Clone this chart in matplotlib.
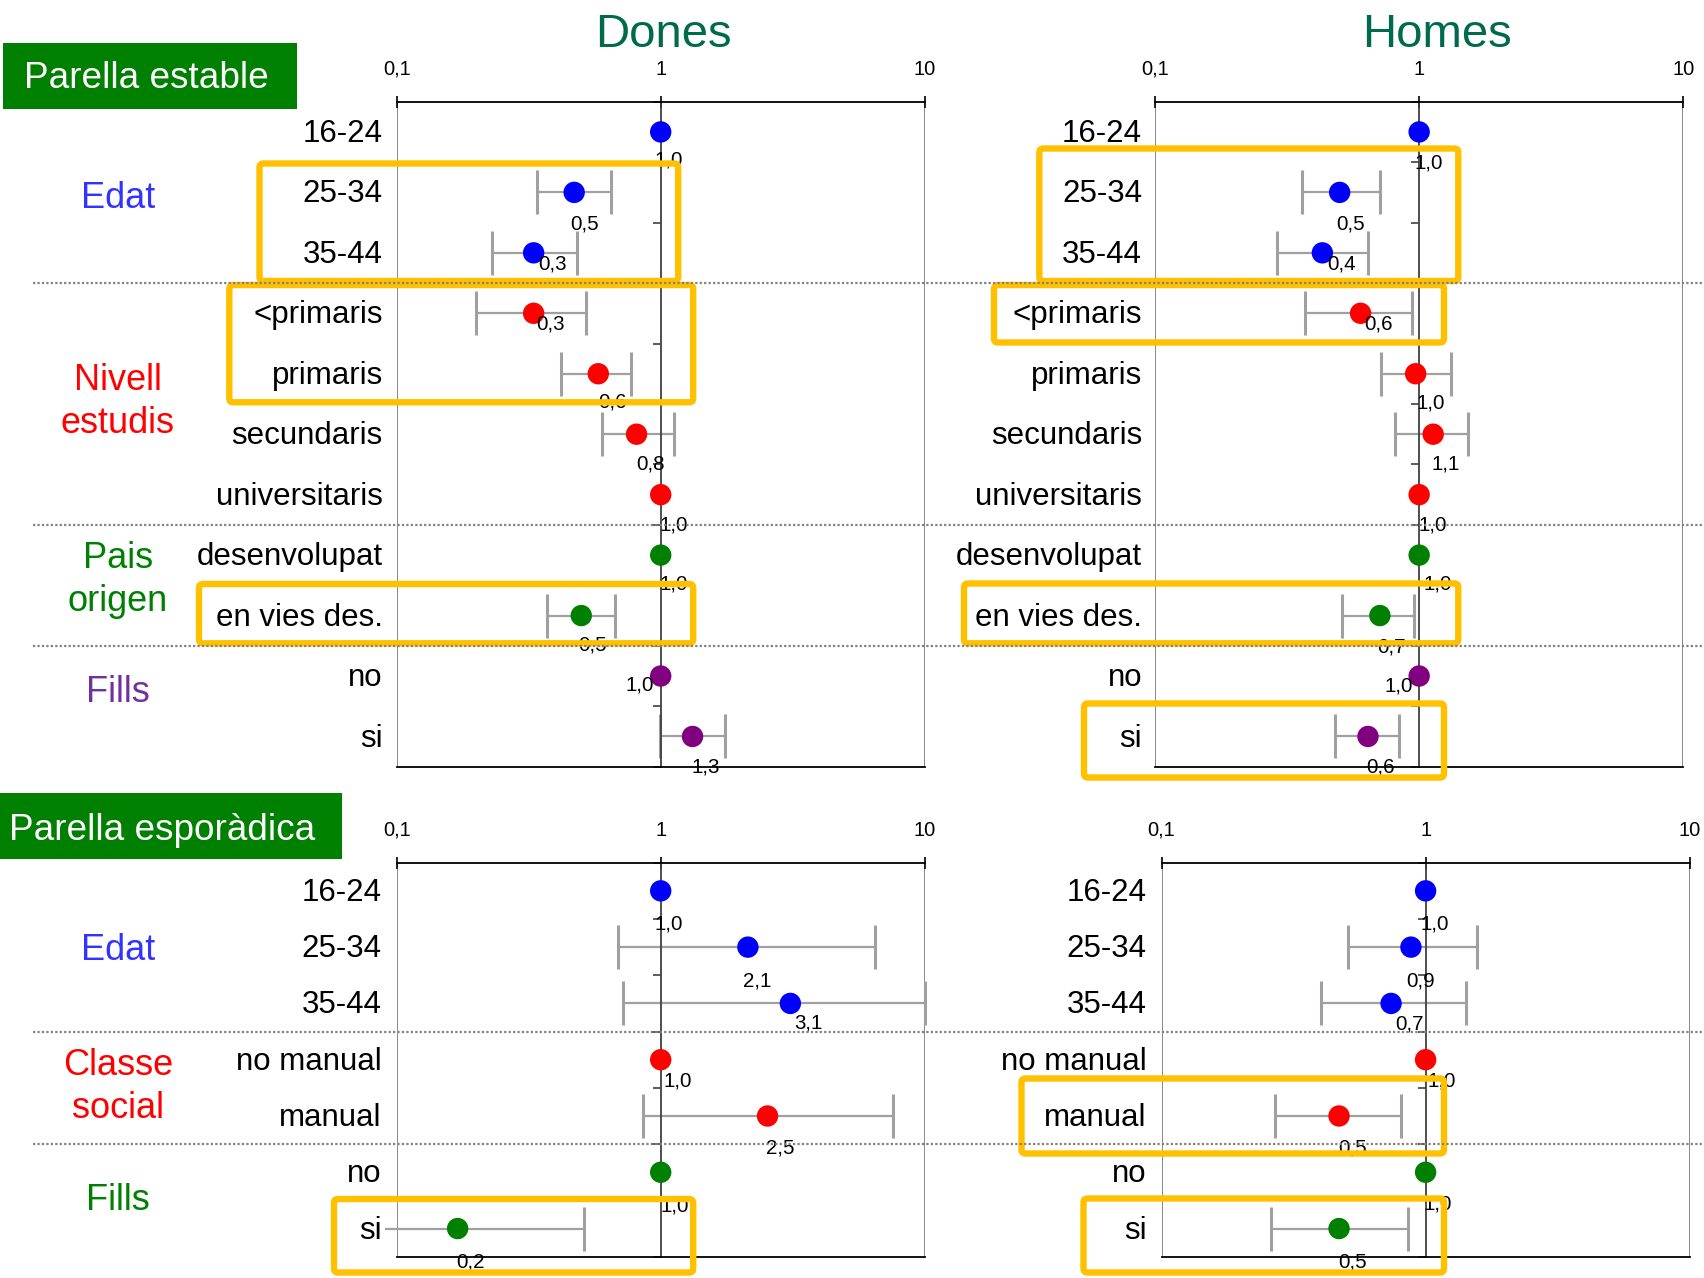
import numpy as np
import matplotlib
matplotlib.use('Agg')
from matplotlib import pyplot as plt
from matplotlib import transforms
from matplotlib.patches import FancyBboxPatch, Rectangle
from matplotlib.lines import Line2D

plt.rcParams['font.family'] = ['Liberation Sans', 'DejaVu Sans']

nan = np.nan

# Categories

rows_estable = ['16-24', '25-34', '35-44', '<primaris', 'primaris', 'secundaris', 'universitaris',
                'desenvolupat', 'en vies des.', 'no', 'si']
groups_estable = ['Edat', 'Nivell\nestudis', 'Pais\norigen', 'Fills']
group_sizes_estable = [3, 4, 2, 2]

rows_esporadica = ['16-24', '25-34', '35-44', 'no manual', 'manual', 'no', 'si']
groups_esporadica = ['Edat', 'Classe\nsocial', 'Fills']
group_sizes_esporadica = [3, 2, 2]

# Odds ratios and 95% confidence limits (nan = reference category)

or_dones_estable = np.array([1.0, 0.47, 0.33, 0.33, 0.58, 0.81, 1.0, 1.0, 0.50, 1.0, 1.32])
lo_dones_estable = np.array([nan, 0.34, 0.23, 0.20, 0.42, 0.60, nan, nan, 0.37, nan, 0.99])
hi_dones_estable = np.array([nan, 0.65, 0.48, 0.52, 0.77, 1.12, nan, nan, 0.67, nan, 1.76])

or_homes_estable = np.array([1.0, 0.50, 0.43, 0.60, 0.97, 1.13, 1.0, 1.0, 0.71, 1.0, 0.64])
lo_homes_estable = np.array([nan, 0.36, 0.29, 0.37, 0.72, 0.81, nan, nan, 0.51, nan, 0.48])
hi_homes_estable = np.array([nan, 0.71, 0.64, 0.94, 1.32, 1.53, nan, nan, 0.96, nan, 0.84])

or_dones_esporadica = np.array([1.0, 2.14, 3.10, 1.0, 2.54, 1.0, 0.17])
lo_dones_esporadica = np.array([nan, 0.69, 0.72, nan, 0.86, nan, 0.085])
hi_dones_esporadica = np.array([nan, 6.5, 10.05, nan, 7.6, nan, 0.51])

or_homes_esporadica = np.array([1.0, 0.88, 0.74, 1.0, 0.47, 1.0, 0.47])
lo_homes_esporadica = np.array([nan, 0.51, 0.40, nan, 0.27, nan, 0.26])
hi_homes_esporadica = np.array([nan, 1.57, 1.42, nan, 0.81, nan, 0.86])

# Styling

point_colors_estable = ['#0000FF', '#FF0000', '#008000', '#800080']
point_colors_esporadica = ['#0000FF', '#FF0000', '#008000']
group_colors_estable = ['#3333FF', '#FF0000', '#008000', '#7030A0']
group_colors_esporadica = ['#3333FF', '#FF0000', '#008000']
group_shift_estable = [6, -2, -5, -14]
group_shift_esporadica = [3, -1, 0]

# where the value labels sit relative to each point (pixels right, pixels down)
offs_dones_estable = [(8, 28), (10, 32), (19, 11), (17, 11), (14, 28), (14, 30), (13, 30), (13, 29),
                      (11, 29), (-21, 9), (13, 31)]
offs_homes_estable = [(10, 31), (11, 32), (19, 11), (18, 11), (15, 29), (13, 30), (14, 30), (19, 29),
                      (12, 31), (-20, 10), (13, 31)]
offs_dones_esporadica = [(8, 33), (9, 34), (18, 20), (17, 21), (13, 32), (14, 34), (13, 33)]
offs_homes_esporadica = [(9, 33), (10, 34), (18, 21), (16, 21), (14, 32), (12, 32), (14, 33)]

W, H = 1704, 1278
fig = plt.figure(figsize=(W / 100, H / 100), dpi=100)
px = transforms.Affine2D().scale(1 / W, -1 / H).translate(0, 1) + fig.transFigure


def px_rect(x0, y0, x1, y1):
    return [x0 / W, 1 - y1 / H, (x1 - x0) / W, (y1 - y0) / H]


def colorsFor(sizes, palette):
    return [c for n, c in zip(sizes, palette) for _ in range(n)]


def plotPanel(ax, rows, values, lower, upper, colors, offsets, label_gap):
    n = len(rows)
    y = np.arange(n) + 0.5
    ax.set_xscale('log')
    ax.set_xlim(0.1, 10)
    ax.set_ylim(n, 0)
    ax.patch.set_alpha(0)

    ax.axvline(0.1, color='#7f7f7f', lw=1.3, zorder=1)
    ax.axvline(10, color='#7f7f7f', lw=1.3, zorder=1)

    ci = ~np.isnan(lower)
    eb = ax.errorbar(values[ci], y[ci], xerr=[values[ci] - lower[ci], upper[ci] - values[ci]], fmt='none',
                     ecolor='#a0a0a0', elinewidth=1.6, capsize=16, capthick=2.2, zorder=2)
    for cap in eb[1]:
        cx, cy = cap.get_data()
        keep = np.asarray(cx) >= 0.1
        cap.set_data(np.asarray(cx)[keep], np.asarray(cy)[keep])
        cap.set_color('#808080')
        cap.set_clip_on(False)
    for line in eb[2]:
        line.set_clip_on(False)

    ax.scatter(values, y, s=15.4 ** 2, c=colors, linewidths=0, zorder=3, clip_on=False)

    for v, yy, (dx, dy) in zip(values, y, offsets):
        ax.annotate(f'{v:.1f}'.replace('.', ','), (v, yy), xytext=(dx * 0.72, -dy * 0.72),
                    textcoords='offset points', ha='center', va='center', fontsize=14.8,
                    annotation_clip=False, zorder=4)

    for name, yy in zip(rows, y):
        ax.annotate(name, (0, yy), xycoords=('axes fraction', 'data'), xytext=(-label_gap * 0.72, -1.5),
                    textcoords='offset points', ha='right', va='center', fontsize=22.5,
                    annotation_clip=False, zorder=5,
                    bbox=dict(boxstyle='square,pad=0.1', fc='white', ec='none'))

    # vertical axis crossing at 1, ticks between categories
    ax.spines['left'].set_position(('data', 1))
    ax.spines['left'].set_color('#404040')
    ax.spines['left'].set_linewidth(1.3)
    ax.spines['right'].set_visible(False)
    ax.spines['top'].set_linewidth(1.3)
    ax.spines['bottom'].set_linewidth(1.3)
    ax.set_yticks(np.arange(n + 1))
    ax.set_yticklabels([])
    ax.tick_params(axis='y', direction='out', length=6, width=1.2, color='#404040', right=False)

    ax.xaxis.tick_top()
    ax.set_xticks([0.1, 1, 10], ['0,1', '1', '10'])
    ax.xaxis.set_minor_locator(matplotlib.ticker.NullLocator())
    ax.tick_params(axis='x', direction='inout', length=8, width=1.2, pad=12.5, labelsize=14.5)


def groupLabels(ax, names, sizes, palette, shifts):
    bounds = np.cumsum([0] + sizes)
    for i, name in enumerate(names):
        centre = (bounds[i] + bounds[i + 1]) / 2
        ax.annotate(name, (118 / W, centre), xycoords=(fig.transFigure, ax.transData),
                    xytext=(0, -shifts[i] * 0.72), textcoords='offset points', ha='center', va='center',
                    fontsize=26, color=palette[i], linespacing=1.3, annotation_clip=False)
    trans = transforms.blended_transform_factory(fig.transFigure, ax.transData)
    for b in bounds[1:-1]:
        fig.add_artist(Line2D([33 / W, 1.0], [b, b], transform=trans, color='#808080', lw=1.6,
                              linestyle=(0, (1, 1)), zorder=6))


ax_de = fig.add_axes(px_rect(396.8, 101.7, 924.6, 766.7))
ax_he = fig.add_axes(px_rect(1155.1, 101.7, 1683.2, 766.7))
ax_dp = fig.add_axes(px_rect(396.8, 862.7, 924.6, 1256.7))
ax_hp = fig.add_axes(px_rect(1161.6, 862.7, 1689.6, 1256.7))

cols_e = colorsFor(group_sizes_estable, point_colors_estable)
cols_p = colorsFor(group_sizes_esporadica, point_colors_esporadica)

plotPanel(ax_de, rows_estable, or_dones_estable, lo_dones_estable, hi_dones_estable, cols_e,
          offs_dones_estable, 14)
plotPanel(ax_he, rows_estable, or_homes_estable, lo_homes_estable, hi_homes_estable, cols_e,
          offs_homes_estable, 13)
plotPanel(ax_dp, rows_esporadica, or_dones_esporadica, lo_dones_esporadica, hi_dones_esporadica, cols_p,
          offs_dones_esporadica, 15)
plotPanel(ax_hp, rows_esporadica, or_homes_esporadica, lo_homes_esporadica, hi_homes_esporadica, cols_p,
          offs_homes_esporadica, 15)

groupLabels(ax_de, groups_estable, group_sizes_estable, group_colors_estable, group_shift_estable)
groupLabels(ax_dp, groups_esporadica, group_sizes_esporadica, group_colors_esporadica, group_shift_esporadica)

# column titles
fig.text(663 / W, 1 - 35 / H, 'Dones', ha='center', va='center', fontsize=34, color='#006A4E')
fig.text(1437 / W, 1 - 35 / H, 'Homes', ha='center', va='center', fontsize=34, color='#006A4E')

# section banners
fig.add_artist(Rectangle((3, 42.7), 293.7, 66.3, transform=px, fc='#008000', ec='none', zorder=3))
fig.text(24 / W, 1 - 79 / H, 'Parella estable', ha='left', va='center', fontsize=26.6, color='white',
         zorder=4)
fig.add_artist(Rectangle((0, 793.3), 341.7, 66, transform=px, fc='#008000', ec='none', zorder=3))
fig.text(9 / W, 1 - 830 / H, 'Parella esporàdica', ha='left', va='center', fontsize=26.6, color='white',
         zorder=4)

# highlighted rows
highlights = [(259.5, 163.5, 678.2, 281), (229.3, 285, 693.2, 402.3), (199, 584, 693.2, 643.3),
              (1039.3, 148.5, 1458.3, 281), (994, 285, 1444, 342.5), (964, 583.5, 1458.3, 643.3),
              (1084, 703.5, 1444, 777.5),
              (334, 1199, 693.2, 1272.5),
              (1021.5, 1078.5, 1444, 1153.5), (1083.5, 1198.5, 1444, 1272.5)]
for x0, y0, x1, y1 in highlights:
    fig.add_artist(FancyBboxPatch((x0, y0), x1 - x0, y1 - y0, boxstyle='round,pad=0,rounding_size=4',
                                  transform=px, fc='none', ec='#FFC000', lw=4.6, zorder=5))

plt.savefig('out.png', dpi=100)
